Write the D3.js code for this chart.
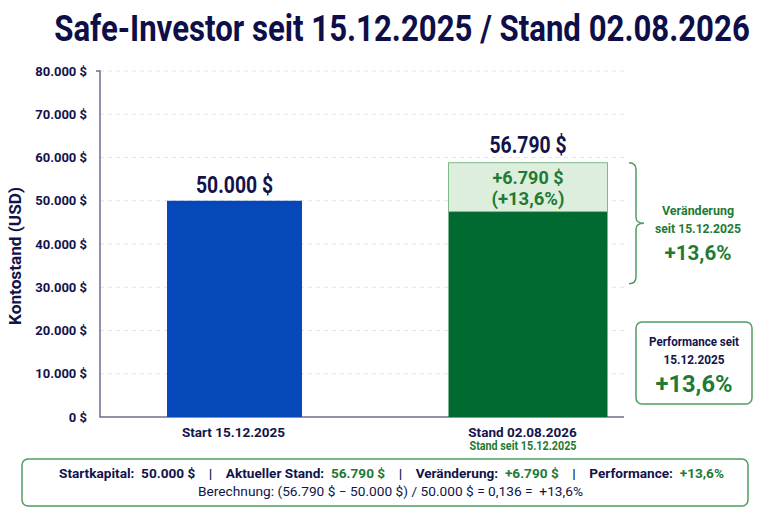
<!DOCTYPE html>
<html>
<head>
<meta charset="utf-8">
<script src="https://cdn.jsdelivr.net/npm/d3@7"></script>
<style>
  body { margin: 0; background: #fff; }
  svg { font-family: Roboto, "Noto Sans", sans-serif; }
</style>
</head>
<body>
<svg id="chart" width="768" height="512"></svg>
<script>
// ------------------------------------------------------------------ //
// Data

var categories = ['Start 15.12.2025', 'Stand 02.08.2026'];
var accountValues = [50000, 56790];        // shown in the value labels
var baseValues = [50000, 47500];           // solid part of each bar, as drawn
var changeValues = [0, 11300];             // light part stacked on top, as drawn
var braceRange = [58800, 30800];           // extent of the curly brace
var yTicks = [0, 10000, 20000, 30000, 40000, 50000, 60000, 70000, 80000];
var startValue = 50000, currentValue = 56790;

// ------------------------------------------------------------------ //
// Setup

var width = 768, height = 512;
var navy = '#13134b', green = '#1f7a33', strokeGreen = '#4f9e5e';
var barColors = ['#0648b9', '#006a31'];
var barWidths = [135, 159], barShift = [1.5, 6];

var de = d3.formatLocale({ decimal: ',', thousands: '.', grouping: [3], currency: ['', ' $'] });
var money = de.format('$,.0f');
var signedMoney = function(v){ return (v >= 0 ? '+' : '') + money(v); };
var change = currentValue - startValue;
var ratio = change / startValue;
var pct = function(v){ return (v >= 0 ? '+' : '') + de.format(',.1f')(v*100) + '%'; };

var svg = d3.select('#chart');

var y = d3.scaleLinear().domain([0, 80000]).range([417, 71]);
var x = d3.scalePoint().domain(categories).range([233, 522]);
var plotLeft = 100, plotRight = 624;

// squeeze a text to a given width (condensed look)
function fit(sel, w){ sel.attr('textLength', w).attr('lengthAdjust', 'spacingAndGlyphs'); return sel; }

// ------------------------------------------------------------------ //
// Title (scaled horizontally for the condensed look)

var titleG = svg.append('g');
var title = titleG.append('text')
  .attr('text-anchor', 'middle')
  .attr('fill', '#0e0e48')
  .style('font-size', '36px').style('font-weight', 'bold')
  .text('Safe-Investor seit 15.12.2025 / Stand 02.08.2026');
var tw = title.node().getComputedTextLength();
titleG.attr('transform', 'translate(402,41) scale(' + (696/tw) + ',1)');

// ------------------------------------------------------------------ //
// Grid + axes

svg.append('g').selectAll('line').data(yTicks.filter(function(d){ return d > 0; }))
  .enter().append('line')
  .attr('x1', plotLeft).attr('x2', plotRight)
  .attr('y1', function(d){ return y(d); }).attr('y2', function(d){ return y(d); })
  .attr('stroke', '#e4e4e4').attr('stroke-dasharray', '4,4');

var yAxis = svg.append('g').attr('transform', 'translate(' + plotLeft + ',0)')
  .call(d3.axisLeft(y).tickValues(yTicks).tickSize(0).tickPadding(13)
    .tickFormat(function(d){ return money(d); }));
yAxis.select('.domain').remove();
yAxis.selectAll('text').attr('fill', navy)
  .style('font-size', '13px').style('font-weight', 'bold').style('font-family', 'Roboto');

svg.append('path')
  .attr('d', 'M' + (plotLeft - 4) + ',' + y(80000) + 'H' + plotLeft + 'V' + y(0) + 'H' + plotRight)
  .attr('fill', 'none').attr('stroke', '#6d6d8c').attr('stroke-width', 1.5);

svg.append('text')
  .attr('transform', 'translate(20.5,256) rotate(-90)')
  .attr('text-anchor', 'middle').attr('fill', navy)
  .style('font-size', '16px').style('font-weight', 'bold')
  .text('Kontostand (USD)')
  .call(fit, 138);

var xAxis = svg.append('g').attr('transform', 'translate(0,' + y(0) + ')')
  .call(d3.axisBottom(x).tickSize(0).tickPadding(10));
xAxis.select('.domain').remove();
xAxis.selectAll('text').attr('fill', navy)
  .style('font-size', '13.5px').style('font-weight', 'bold').style('font-family', 'Roboto');

svg.append('text')
  .attr('x', x(categories[1]) + 1).attr('y', 450)
  .attr('text-anchor', 'middle').attr('fill', green)
  .style('font-size', '12px').style('font-weight', 'bold')
  .text('Stand seit 15.12.2025')
  .call(fit, 107);

// ------------------------------------------------------------------ //
// Bars

var bars = categories.map(function(c, i){
  return { cat: c, i: i, base: baseValues[i], extra: changeValues[i], total: accountValues[i] };
});

function barX(d){ return x(d.cat) + barShift[d.i] - barWidths[d.i]/2; }

svg.append('g').selectAll('rect').data(bars).enter().append('rect')
  .attr('x', barX)
  .attr('width', function(d){ return barWidths[d.i]; })
  .attr('y', function(d){ return y(d.base); })
  .attr('height', function(d){ return y(0) - y(d.base); })
  .attr('fill', function(d){ return barColors[d.i]; });

svg.append('g').selectAll('rect').data(bars.filter(function(d){ return d.extra > 0; }))
  .enter().append('rect')
  .attr('x', barX)
  .attr('width', function(d){ return barWidths[d.i]; })
  .attr('y', function(d){ return y(d.base + d.extra); })
  .attr('height', function(d){ return y(d.base) - y(d.base + d.extra); })
  .attr('fill', '#ddeedd').attr('stroke', '#7fb989').attr('stroke-width', 1);

// value labels above bars
svg.append('g').selectAll('text').data(bars).enter().append('text')
  .attr('x', function(d){ return x(d.cat) + barShift[d.i]; })
  .attr('y', function(d){ return y(d.base + d.extra) - (d.extra > 0 ? 10 : 8); })
  .attr('text-anchor', 'middle').attr('fill', navy)
  .style('font-size', '24px').style('font-weight', 'bold')
  .text(function(d){ return money(d.total); })
  .attr('textLength', 77).attr('lengthAdjust', 'spacingAndGlyphs');

// change label inside the light segment
var cb = bars[1];
var cx = x(cb.cat) + barShift[cb.i];
svg.append('text').attr('x', cx).attr('y', 183.5)
  .attr('text-anchor', 'middle').attr('fill', green)
  .style('font-size', '18px').style('font-weight', 'bold')
  .text(signedMoney(change)).call(fit, 71);
svg.append('text').attr('x', cx).attr('y', 205)
  .attr('text-anchor', 'middle').attr('fill', green)
  .style('font-size', '18px').style('font-weight', 'bold')
  .text('(' + pct(ratio) + ')').call(fit, 73);

// ------------------------------------------------------------------ //
// Brace

var bTop = y(braceRange[0]), bBot = y(braceRange[1]), bMid = (bTop + bBot)/2;
var bx = 629;
svg.append('path')
  .attr('d', 'M' + bx + ',' + bTop +
    'Q' + (bx+7) + ',' + bTop + ' ' + (bx+7) + ',' + (bTop+7) +
    'V' + (bMid-6) +
    'Q' + (bx+7) + ',' + bMid + ' ' + (bx+15) + ',' + bMid +
    'Q' + (bx+7) + ',' + bMid + ' ' + (bx+7) + ',' + (bMid+6) +
    'V' + (bBot-7) +
    'Q' + (bx+7) + ',' + bBot + ' ' + bx + ',' + bBot)
  .attr('fill', 'none').attr('stroke', strokeGreen).attr('stroke-width', 1.5);

var lx = 698;
svg.append('text').attr('x', lx).attr('y', 214.5).attr('text-anchor', 'middle').attr('fill', green)
  .style('font-size', '12.5px').style('font-weight', 'bold').text('Veränderung').call(fit, 72);
svg.append('text').attr('x', lx).attr('y', 232.5).attr('text-anchor', 'middle').attr('fill', green)
  .style('font-size', '12.5px').style('font-weight', 'bold').text('seit 15.12.2025').call(fit, 86);
svg.append('text').attr('x', lx).attr('y', 260).attr('text-anchor', 'middle').attr('fill', green)
  .style('font-size', '20px').style('font-weight', 'bold').text(pct(ratio)).call(fit, 67);

// ------------------------------------------------------------------ //
// Performance box

svg.append('rect').attr('x', 636).attr('y', 322).attr('width', 116).attr('height', 82).attr('rx', 6)
  .attr('fill', '#fff').attr('stroke', strokeGreen).attr('stroke-width', 1.5);
svg.append('text').attr('x', 694).attr('y', 345.5).attr('text-anchor', 'middle').attr('fill', navy)
  .style('font-size', '12.5px').style('font-weight', 'bold').text('Performance seit').call(fit, 90);
svg.append('text').attr('x', 694).attr('y', 363.5).attr('text-anchor', 'middle').attr('fill', navy)
  .style('font-size', '12.5px').style('font-weight', 'bold').text('15.12.2025').call(fit, 61);
svg.append('text').attr('x', 694).attr('y', 392).attr('text-anchor', 'middle').attr('fill', green)
  .style('font-size', '24px').style('font-weight', 'bold').text(pct(ratio)).call(fit, 77);

// ------------------------------------------------------------------ //
// Summary box

svg.append('rect').attr('x', 22).attr('y', 459).attr('width', 726).attr('height', 47).attr('rx', 6)
  .attr('fill', '#fff').attr('stroke', strokeGreen).attr('stroke-width', 1.5);

var summary = [
  ['Startkapital:  ', navy], [money(startValue), navy], ['    |    ', navy],
  ['Aktueller Stand:  ', navy], [money(currentValue), green], ['    |    ', navy],
  ['Veränderung:  ', navy], [signedMoney(change), green], ['    |    ', navy],
  ['Performance:  ', navy], [pct(ratio), green]
];
var line1 = svg.append('text').attr('x', 391.5).attr('y', 477.5).attr('text-anchor', 'middle')
  .style('font-size', '13px').style('font-weight', 'bold').style('white-space', 'pre')
  .attr('xml:space', 'preserve');
line1.selectAll('tspan').data(summary).enter().append('tspan')
  .attr('fill', function(d){ return d[1]; })
  .text(function(d){ return d[0]; });
fit(line1, 665);

svg.append('text').attr('x', 390.5).attr('y', 495.5).attr('text-anchor', 'middle').attr('fill', navy)
  .style('font-size', '12px').style('white-space', 'pre')
  .text('Berechnung: (' + money(currentValue) + ' \u2212 ' + money(startValue) + ') / ' + money(startValue) +
    ' = ' + de.format(',.3f')(ratio) + ' =  ' + pct(ratio))
  .call(fit, 385);
</script>
</body>
</html>
